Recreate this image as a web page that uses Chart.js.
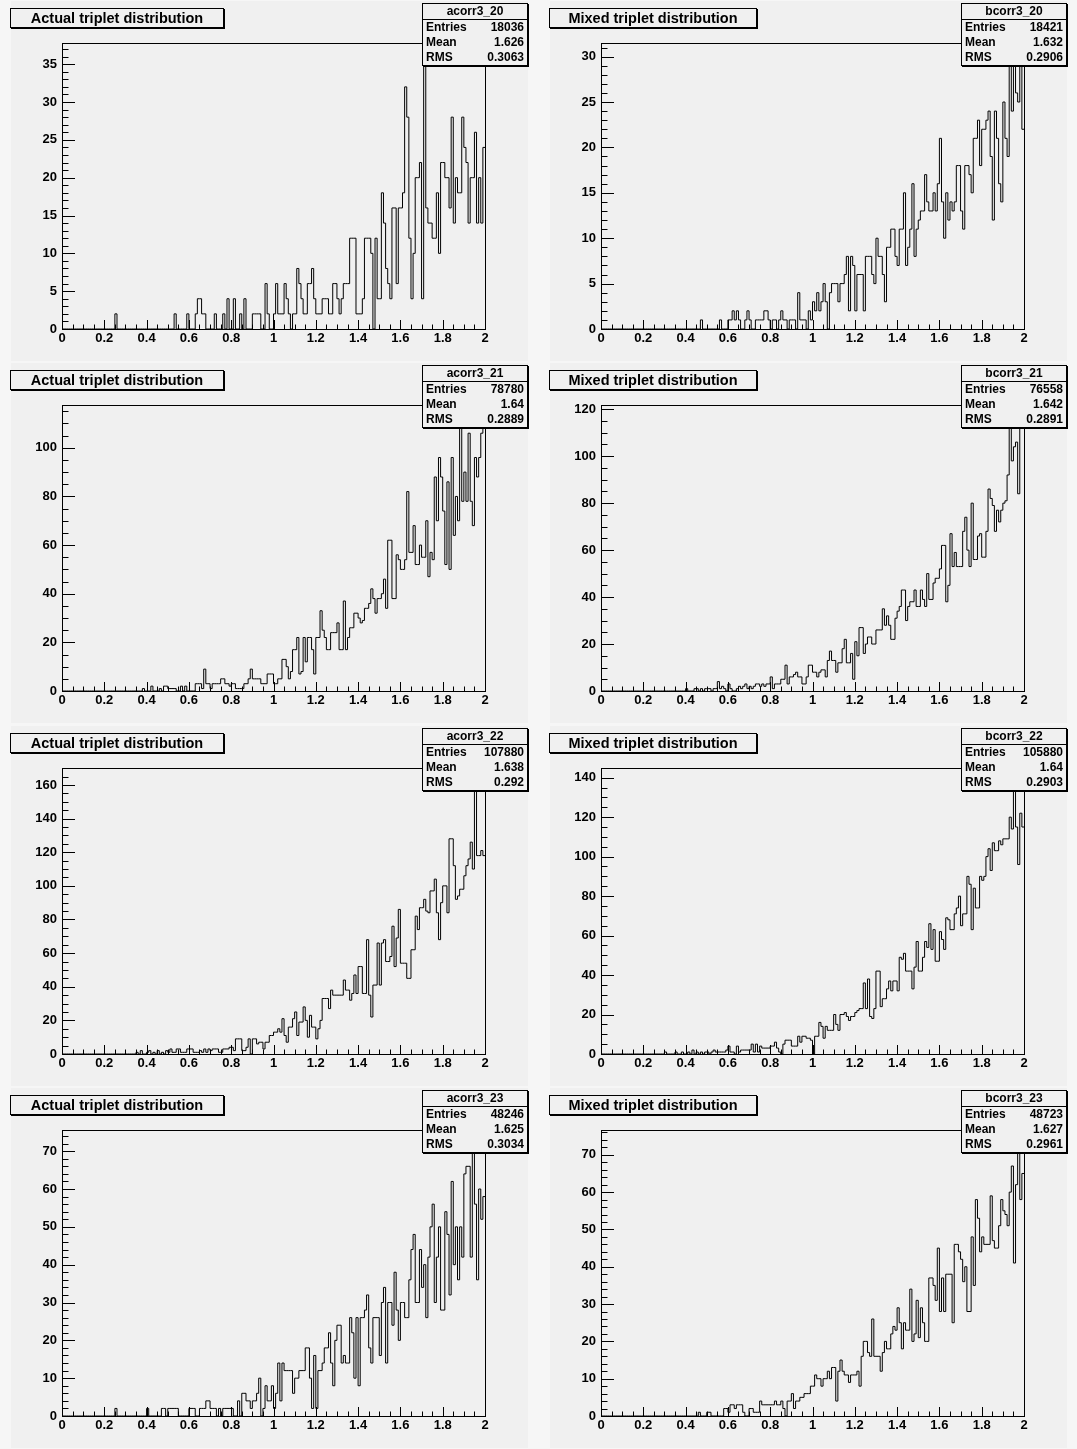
<!DOCTYPE html>
<html>
<head>
<meta charset="utf-8">
<script src="https://cdn.jsdelivr.net/npm/chart.js@4.4.0/dist/chart.umd.min.js"></script>
<style>
html,body{margin:0;padding:0;background:#f6f6f6;}
#root{position:relative;width:1077px;height:1449px;overflow:hidden;background:#f6f6f6;}
.pad{position:absolute;width:517px;height:360px;background:#f0f0f0;}
.pad canvas{position:absolute;left:0;top:0;}
.ttl{position:absolute;left:-1px;top:7px;height:20px;box-sizing:border-box;border:1px solid #000;box-shadow:1px 1px 0 #000;background:#f0f0f0;font:bold 14.5px "Liberation Sans",Arial,sans-serif;line-height:18px;text-align:center;color:#000;white-space:nowrap;}
.stats{position:absolute;left:411px;top:2px;width:106px;height:63px;box-sizing:border-box;border:1px solid #000;box-shadow:1px 1px 0 #000;background:#f0f0f0;font:bold 12px "Liberation Sans",Arial,sans-serif;color:#000;}
.sh{height:15px;line-height:15px;text-align:center;border-bottom:1px solid #000;}
.sr{display:flex;justify-content:space-between;padding:0 3px 0 3px;height:15px;line-height:15px;}
</style>
</head>
<body>
<div id="root"></div>
<script>
// ---- data (200 bins on [0,2], bin width 0.01) ----
const xTickLabels = [0, 0.2, 0.4, 0.6, 0.8, 1, 1.2, 1.4, 1.6, 1.8, 2];
const binWidth = 0.01;
const titles = ['Actual triplet distribution', 'Mixed triplet distribution'];
const histNames = ['acorr3_20','bcorr3_20','acorr3_21','bcorr3_21','acorr3_22','bcorr3_22','acorr3_23','bcorr3_23'];
const entries = ['18036','18421','78780','76558','107880','105880','48246','48723'];
const means = ['1.626','1.632','1.64','1.642','1.638','1.64','1.625','1.627'];
const rmsValues = ['0.3063','0.2906','0.2889','0.2891','0.292','0.2903','0.3034','0.2961'];
const yMajorStep = [5, 5, 20, 20, 20, 20, 10, 10];
const yMinorStep = [1, 1, 5, 5, 5, 5, 2, 2];

const a20 = [
0,0,0,0,0,0,0,0,0,0,
0,0,0,0,0,0,0,0,0,0,
0,0,0,0,0,2,0,0,0,0,
0,0,0,0,0,0,0,0,0,0,
0,0,0,0,0,0,0,0,0,0,
0,0,0,2,0,0,0,0,0,2,
0,0,0,2,4,4,2,2,0,0,
0,0,2,0,0,0,2,0,4,0,
0,4,0,0,2,0,4,0,0,0,
2,2,2,2,0,0,6,2,0,0,
2,6,2,2,2,6,4,2,0,2,
2,8,6,4,2,2,6,6,8,4,
2,2,2,4,4,4,2,2,6,6,
4,2,4,6,6,6,12,12,12,2,
2,2,4,12,12,12,10,0,12,4,
4,18,14,8,6,4,16,16,6,16,
16,18,32,28,12,4,10,20,20,22,
4,36,16,14,14,12,12,18,10,22,
22,20,20,16,28,14,20,18,18,28,
24,22,14,20,20,26,14,20,14,24];

const b20 = [
0,0,0,0,0,0,0,0,0,0,
0,0,0,0,0,0,0,0,0,0,
0,0,0,0,0,0,0,0,0,0,
0,0,0,0,0,0,0,0,0,0,
0,0,0,0,0,0,0,1,0,0,
0,0,0,0,0,0,1,0,0,0,
1,1,2,1,2,1,0,0,1,2,
1,0,0,1,1,1,1,2,2,1,
0,1,1,0,1,2,1,1,0,1,
1,1,0,4,1,1,1,0,2,1,
3,2,4,2,3,5,3,0,4,5,
5,5,3,5,5,6,8,2,8,7,
2,6,6,6,2,8,8,8,6,5,
10,8,8,6,3,9,9,11,11,8,
7,11,11,15,7,9,11,16,8,11,
12,13,13,17,14,13,13,15,13,16,
21,14,10,15,12,14,13,14,18,18,
13,11,18,18,17,15,21,21,23,18,
22,22,23,24,19,12,24,21,16,14,
25,21,19,29,24,30,26,25,30,22];

const a21 = [
0,0,0,0,0,0,0,0,0,0,
0,0,0,0,0,0,0,0,0,0,
0,0,0,0,0,0,0,0,0,0,
0,0,0,0,0,0,0,0,1,0,
0,0,2,0,0,0,1,0,2,2,
1,1,1,1,0,0,2,0,2,0,
0,0,0,3,3,3,1,9,3,3,
1,3,3,3,3,5,5,3,3,2,
3,3,1,1,1,1,3,3,5,9,
5,5,5,5,3,3,3,7,7,7,
3,3,5,5,13,13,10,5,8,17,
17,22,7,8,22,12,22,22,17,7,
22,22,33,25,22,17,17,24,24,24,
28,17,17,37,17,22,26,26,32,32,
30,28,29,34,34,36,42,38,32,38,
38,40,46,34,62,62,38,38,56,54,
50,50,54,82,57,57,68,52,52,60,
55,55,70,47,57,54,88,70,96,88,
74,52,86,50,96,64,80,70,112,78,
90,78,106,78,68,96,88,96,106,108];

const b21 = [
0,0,0,0,0,0,0,0,0,0,
0,0,0,0,0,0,0,0,0,0,
0,0,0,0,0,0,0,0,0,0,
0,0,0,0,0,0,0,0,0,0,
1,0,0,0,1,1,0,1,0,1,
1,1,0,1,1,4,1,2,1,0,
3,1,0,0,1,2,1,2,3,1,
2,1,2,3,3,2,3,2,3,3,
6,1,3,3,3,5,5,11,3,6,
6,7,8,6,6,3,3,6,11,11,
8,8,6,8,9,9,6,13,17,13,
13,8,12,12,18,22,12,12,16,5,
21,15,27,27,16,20,23,23,20,20,
26,26,26,35,28,32,28,22,22,31,
34,36,43,43,30,36,38,38,43,36,
36,43,39,36,50,39,39,46,48,48,
52,62,62,38,45,67,53,59,53,53,
53,68,74,60,53,80,56,56,66,67,
57,57,68,86,82,79,68,77,72,77,
80,81,92,112,98,104,106,84,116,112];

const a22 = [
0,0,0,0,0,0,0,0,0,0,
0,0,0,0,0,0,0,0,0,0,
0,0,0,0,0,0,0,0,0,0,
0,0,0,0,0,1,0,2,0,0,
1,2,0,1,0,2,0,1,0,2,
1,3,1,1,3,3,1,1,1,3,
3,3,1,1,1,2,1,3,1,3,
2,3,3,3,1,1,3,3,3,4,
4,2,9,9,9,2,2,4,9,0,
9,9,6,7,7,3,7,7,11,11,
13,13,15,13,21,11,7,16,16,21,
25,11,19,19,28,20,10,23,16,16,
9,15,20,33,33,33,27,38,35,35,
35,35,35,44,38,38,32,36,47,36,
52,52,36,36,68,35,22,41,41,66,
41,66,68,55,55,58,76,52,69,86,
54,54,54,45,45,62,62,82,74,87,
87,92,85,84,97,97,104,84,68,90,
100,100,84,128,128,112,92,94,98,98,
106,112,116,126,110,162,118,118,121,118];

const b22 = [
0,0,0,0,0,0,0,0,0,0,
0,0,0,0,0,0,0,0,0,0,
0,0,0,0,0,0,0,0,0,0,
1,0,0,0,0,1,0,0,1,0,
0,1,0,2,0,1,0,1,0,1,
1,0,1,2,1,1,1,1,1,2,
4,1,1,0,4,1,2,2,2,2,
2,5,1,5,1,4,3,3,3,3,
4,4,6,3,1,0,5,7,7,7,
4,4,4,9,6,9,9,8,8,7,
0,9,9,16,14,8,14,12,12,12,
20,15,12,20,20,21,19,17,19,19,
21,22,23,23,36,23,38,19,18,23,
42,42,24,28,28,33,37,32,37,37,
32,49,48,51,42,42,42,33,44,57,
42,42,49,57,54,66,53,63,47,47,
62,58,53,69,68,63,63,71,74,80,
65,71,71,90,86,63,84,74,74,90,
88,90,100,104,93,107,103,103,108,106,
109,109,109,120,114,138,115,96,122,115];

const a23 = [
0,0,0,0,0,0,0,0,0,0,
0,0,0,0,0,0,0,0,0,0,
0,0,0,0,0,2,0,0,0,0,
0,0,0,0,0,0,0,0,0,0,
2,0,0,0,0,0,0,2,2,0,
2,2,2,2,2,0,0,0,0,0,
2,2,2,0,0,2,2,2,4,4,
2,2,2,0,2,0,2,2,2,2,
2,0,0,4,0,6,6,4,4,2,
4,4,6,10,0,2,8,4,4,8,
2,6,14,4,14,12,12,12,12,6,
10,10,12,12,12,18,18,10,2,16,
2,12,12,14,18,18,22,14,8,20,
24,24,14,16,14,14,26,22,10,26,
8,26,26,28,32,18,14,26,26,26,
16,30,34,14,30,30,24,38,28,20,
30,30,26,26,36,44,48,30,30,44,
34,40,26,42,50,56,30,42,50,28,
28,54,48,32,62,40,50,36,50,42,
64,66,66,42,72,56,36,60,52,58];

const b23 = [
0,0,0,0,0,0,0,0,0,0,
0,0,0,0,0,0,0,0,0,0,
0,0,0,0,0,0,0,0,0,0,
0,0,0,0,0,0,0,0,0,0,
0,0,0,0,0,0,1,0,0,0,
1,1,0,0,0,0,0,0,2,2,
1,3,3,2,3,3,3,1,0,0,
2,2,1,1,1,4,3,3,3,3,
3,3,4,3,3,4,2,0,4,4,
6,2,4,4,5,5,6,6,6,8,
8,11,10,10,8,10,10,12,10,13,
13,4,12,15,12,11,11,9,11,11,
11,12,8,16,20,20,17,16,26,16,
16,16,12,17,20,18,18,22,24,23,
29,25,18,25,23,23,34,20,22,31,
21,29,25,20,20,37,37,35,31,45,
28,37,28,38,38,38,25,46,46,44,
42,36,40,28,28,48,35,58,53,44,
48,46,46,46,59,47,45,45,51,58,
55,54,51,60,67,41,62,73,58,65];

const series = [a20, b20, a21, b21, a22, b22, a23, b23];

// ---- drawing ----
const FONT = '"Liberation Sans", Arial, Helvetica, sans-serif';
const tickFont = {family: FONT, size: 13, weight: 'bold'};

const rootFrame = {
  id: 'rootFrame',
  afterDraw(chart, args, opts) {
    const {ctx, chartArea: a, scales: {x, y}} = chart;
    ctx.save();
    ctx.strokeStyle = '#000';
    ctx.lineWidth = 1;
    ctx.strokeRect(a.left + 0.5, a.top + 0.5, a.right - a.left, a.bottom - a.top);
    ctx.beginPath();
    for (let i = 0; i <= 40; i++) {
      const v = i * 0.05;
      const px = Math.round(x.getPixelForValue(v)) + 0.5;
      const len = (i % 4 === 0) ? 9 : 4.5;
      ctx.moveTo(px, a.bottom);
      ctx.lineTo(px, a.bottom - len);
    }
    const n = Math.floor(y.max / opts.minor + 1e-9);
    for (let i = 0; i <= n; i++) {
      const v = i * opts.minor;
      const py = Math.round(y.getPixelForValue(v)) + 0.5;
      const r = v / opts.major;
      const len = Math.abs(r - Math.round(r)) < 1e-6 ? 13 : 6.5;
      ctx.moveTo(a.left, py);
      ctx.lineTo(a.left + len, py);
    }
    ctx.stroke();
    ctx.restore();
  }
};

function buildChart(canvas, vals, majorStep, minorStep) {
  const points = vals.map((v, i) => ({x: i * binWidth, y: v}));
  points.push({x: vals.length * binWidth, y: vals[vals.length - 1]});
  const yMax = Math.max(...vals) * 1.05;
  return new Chart(canvas, {
    type: 'line',
    data: {datasets: [{data: points, stepped: 'before', borderColor: '#000', borderWidth: 1,
                       pointRadius: 0, fill: false, tension: 0}]},
    options: {
      responsive: false, animation: false, devicePixelRatio: 1, events: [],
      layout: {padding: {left: 0, top: 42, right: 43, bottom: 0}},
      plugins: {legend: {display: false}, tooltip: {enabled: false},
                rootFrame: {major: majorStep, minor: minorStep}},
      scales: {
        x: {type: 'linear', min: 0, max: 2,
            grid: {display: false, drawTicks: false}, border: {display: false},
            ticks: {color: '#000', font: tickFont, padding: 2, maxRotation: 0, autoSkip: false,
                    callback: v => String(+Number(v).toFixed(1))},
            afterBuildTicks: s => { s.ticks = xTickLabels.map(v => ({value: v})); },
            afterFit: s => { s.height = 32; }},
        y: {type: 'linear', min: 0, max: yMax,
            grid: {display: false, drawTicks: false}, border: {display: false},
            ticks: {color: '#000', font: tickFont, padding: 5, autoSkip: false,
                    callback: v => String(Math.round(v))},
            afterBuildTicks: s => {
              const t = [];
              for (let i = 0; i * majorStep <= yMax + 1e-9; i++) t.push({value: i * majorStep});
              s.ticks = t;
            },
            afterFit: s => { s.width = 51; }}
      }
    },
    plugins: [rootFrame]
  });
}

const root = document.getElementById('root');
series.forEach((vals, k) => {
  const r = Math.floor(k / 2), c = k % 2;
  const rowTop = Math.round(r * 362.25);
  const pad = document.createElement('div');
  pad.className = 'pad';
  pad.style.left = (c ? 550 : 11) + 'px';
  pad.style.top = (rowTop + 1) + 'px';
  const cv = document.createElement('canvas');
  cv.width = 517; cv.height = 360;
  cv.style.width = '517px'; cv.style.height = '360px';
  pad.appendChild(cv);
  const t = document.createElement('div');
  t.className = 'ttl';
  t.style.width = (c ? 208 : 214) + 'px';
  t.textContent = titles[c];
  pad.appendChild(t);
  const st = document.createElement('div');
  st.className = 'stats';
  st.innerHTML = '<div class="sh">' + histNames[k] + '</div>' +
    '<div class="sr"><span>Entries</span><span>' + entries[k] + '</span></div>' +
    '<div class="sr"><span>Mean</span><span>' + means[k] + '</span></div>' +
    '<div class="sr"><span>RMS</span><span>' + rmsValues[k] + '</span></div>';
  pad.appendChild(st);
  root.appendChild(pad);
  buildChart(cv, vals, yMajorStep[k], yMinorStep[k]);
});
</script>
</body>
</html>
